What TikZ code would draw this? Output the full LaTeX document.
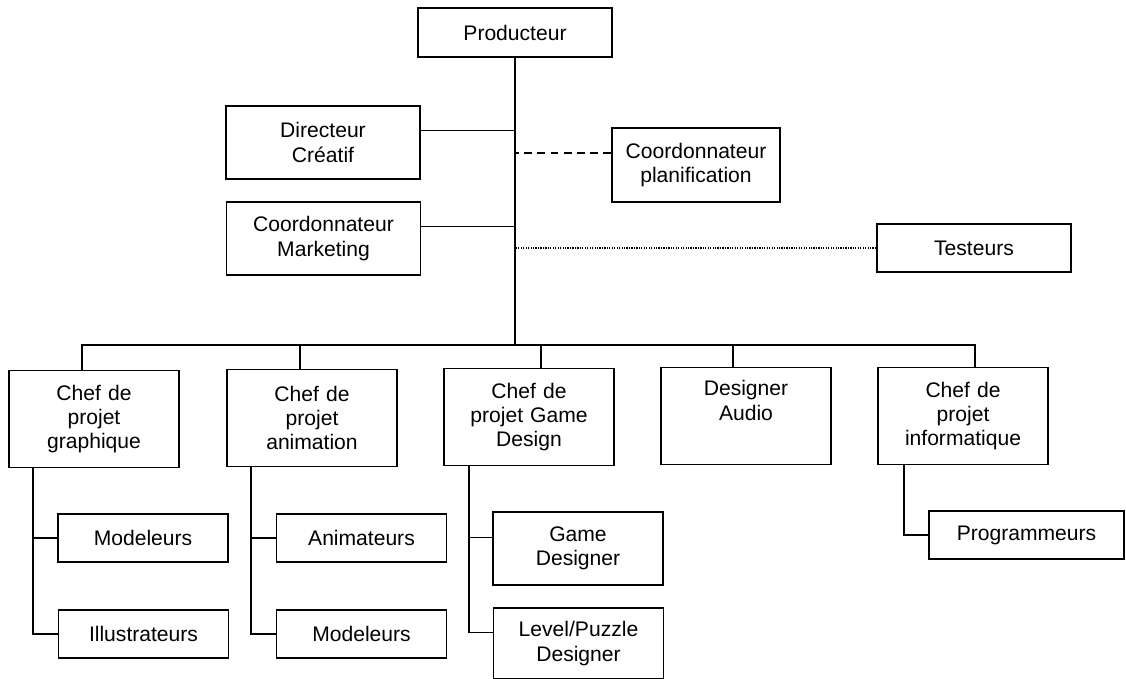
\documentclass[tikz,border=0pt]{standalone}
\usepackage{fontspec}
\setmainfont{Liberation Sans}
\usepackage{tikz}
\usetikzlibrary{
	calc,
	positioning
	}
\tikzstyle{boite}=[draw,line width=1pt,inner sep=0pt,align=center,font=\fontsize{12}{13.8}\selectfont]
\tikzstyle{boite-dir}=[boite,text width=3.88cm,minimum height=1.46cm]
\tikzstyle{boite-chef}=[boite,text width=3.4cm,minimum height=1.94cm]
\tikzstyle{boite-equipe}=[boite,text width=3.4cm,minimum height=0.96cm]
\tikzstyle{trait}=[line width=1pt]
\tikzstyle{tirets}=[line width=1pt,dash pattern=on 4.5pt off 3pt]
\tikzstyle{pointilles}=[line width=0.7pt,dash pattern=on 0.7pt off 0.7pt]

\begin{document}
\begin{tikzpicture}[x=0.02cm,y=-0.02cm]
\useasboundingbox (0,0) rectangle (1126,679);

% direction
\node[boite,text width=3.88cm,minimum height=0.98cm] (prod) at (515,32.5) {Producteur};
\node[boite-dir] (dir) at (323,142.5) {Directeur\\Créatif};
\node[boite-dir] (mkt) at (323.5,238.5) {Coordonnateur\\Marketing};
\node[boite,text width=3.36cm,minimum height=1.48cm] (planif) at (696,165) {Coordonnateur\\planification};
\node[boite,text width=3.88cm,minimum height=0.96cm] (test) at (974,248) {Testeurs};
\coordinate (barre) at (515,345);

% chefs de projet
\node[boite-chef] (graph) at (94,419) {Chef de\\projet\\graphique};
\node[boite-chef] (anim) at (312,418) {Chef de\\projet\\animation};
\node[boite-chef] (gdes) at (529,417) {Chef de\\projet Game\\Design};
\node[boite-chef] (audio) at (746,416) {Designer\\Audio\\\strut};
\node[boite-chef] (info) at (963,416) {Chef de\\projet\\informatique};

% equipes
\node[boite-equipe] (mod1) at (143,538) {Modeleurs};
\node[boite-equipe] (illu) at (143.5,634) {Illustrateurs};
\node[boite-equipe] (animat) at (361.5,538) {Animateurs};
\node[boite-equipe] (mod2) at (361.5,634) {Modeleurs};
\node[boite,text width=3.4cm,minimum height=1.46cm] (gdesr) at (578,548.5) {Game\\Designer};
\node[boite,text width=3.4cm,minimum height=1.42cm] (level) at (578.5,643.5) {Level/Puzzle\\Designer};
\node[boite,text width=3.9cm,minimum height=0.96cm] (prog) at (1026.5,535) {Programmeurs};

% liens de la direction
\draw[trait] (prod.south) -- (barre);
\coordinate (c-dir) at ($(dir.east)+(0,-12)$);
\coordinate (c-mkt) at ($(mkt.east)+(0,-12)$);
\coordinate (c-planif) at ($(planif.west)+(0,-12)$);
\draw[trait] (c-dir) -- (c-dir -| barre);
\draw[trait] (c-mkt) -- (c-mkt -| barre);
\draw[tirets] (c-planif) -- (c-planif -| barre);
\draw[pointilles] (test.west) -- (test.west -| barre);

\foreach \n/\d in {graph/-12,anim/-12,gdes/12,audio/-13,info/12}
	\draw[trait] ($(\n.north)+(\d,0)$) |- (barre);

% liens des equipes
\coordinate (s-graph) at ($(graph.south west)+(25,0)$);
\coordinate (s-anim) at ($(anim.south west)+(25,0)$);
\coordinate (s-gdes) at ($(gdes.south west)+(25.5,0)$);
\coordinate (s-info) at ($(info.south west)+(27,0)$);
\coordinate (c-level) at ($(level.west)+(0,-11)$);
\coordinate (c-gdesr) at ($(gdesr.west)+(0,-11)$);
\draw[trait] (s-graph) |- (illu.west);
\draw[trait] (mod1.west) -- (mod1.west -| s-graph);
\draw[trait] (s-anim) |- (mod2.west);
\draw[trait] (animat.west) -- (animat.west -| s-anim);
\draw[trait] (s-gdes) |- (c-level);
\draw[trait] (c-gdesr) -- (c-gdesr -| s-gdes);
\draw[trait] (s-info) |- (prog.west);
\end{tikzpicture}
\end{document}
